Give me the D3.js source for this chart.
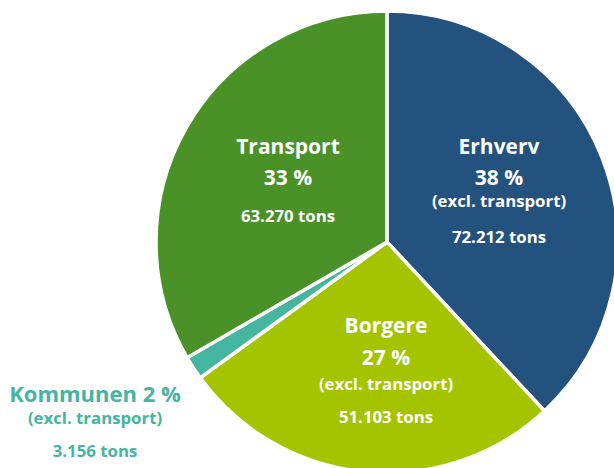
<!DOCTYPE html>
<html><head><meta charset="utf-8">
<script src="https://cdn.jsdelivr.net/npm/d3@7"></script>
<style>
html,body{margin:0;padding:0;background:#fff;}
svg{display:block;}
text{font-family:"Open Sans",sans-serif;font-weight:700;}
</style></head>
<body>
<svg id="chart" width="614" height="468"></svg>
<script>
const categories = ["Erhverv","Borgere","Kommunen","Transport"];
const values = [72212, 51103, 3156, 63270];
const percents = ["38 %","27 %","2 %","33 %"];
const subtitles = ["(excl. transport)","(excl. transport)","(excl. transport)",""];
const tonsLabels = ["72.212 tons","51.103 tons","3.156 tons","63.270 tons"];
const colors = ["#23527f","#a5c400","#45b59f","#4a9127"];

const svg = d3.select("#chart");
const cx = 387, cy = 242, R = 231;
const g = svg.append("g").attr("transform",`translate(${cx},${cy})`);

const data = categories.map((c,i)=>({cat:c,value:values[i],i}));
const pie = d3.pie().value(d=>d.value).sort(null);
const arc = d3.arc().innerRadius(0).outerRadius(R);
const arcs = pie(data);

g.selectAll("path").data(arcs).join("path")
  .attr("d",arc)
  .attr("fill",d=>colors[d.data.i])
  .attr("stroke","#fff")
  .attr("stroke-width",3.5)
  .attr("stroke-linejoin","miter");

const labelPos = {
  Erhverv:  {x:499, lines:[[154,21,categories[0]],[185,21,percents[0]],[207,16.8,subtitles[0]],[243,16.8,tonsLabels[0]]], fill:"#fff"},
  Transport:{x:288, lines:[[154,21,categories[3]],[185,21,percents[3]],[222,16.8,tonsLabels[3]]], fill:"#fff"},
  Borgere:  {x:386, lines:[[333,21,categories[1]],[365,21,percents[1]],[390,16.8,subtitles[1]],[423,16.8,tonsLabels[1]]], fill:"#fff"},
  Kommunen: {x:95,  lines:[[402,22,categories[2]+" "+percents[2]],[424,16.8,subtitles[2]],[457,16.8,tonsLabels[2]]], fill:colors[2]}
};
Object.values(labelPos).forEach(p=>{
  p.lines.forEach(([y,size,txt])=>{
    svg.append("text").attr("x",p.x).attr("y",y)
      .attr("text-anchor","middle").attr("font-size",size)
      .attr("fill",p.fill).text(txt);
  });
});
</script>
</body></html>
